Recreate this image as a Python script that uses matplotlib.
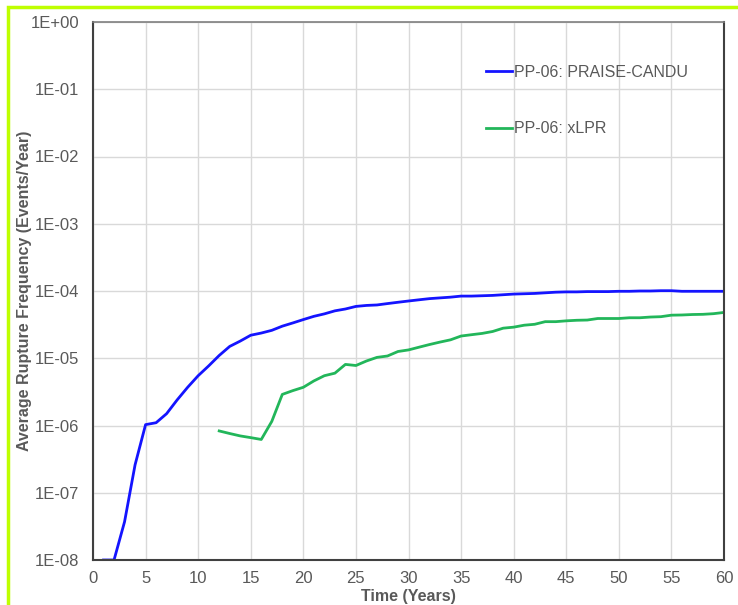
import numpy as np
import matplotlib.pyplot as plt
from matplotlib.lines import Line2D
from matplotlib.patches import Rectangle

plt.rcParams['font.family'] = ['Liberation Sans', 'DejaVu Sans']

# PRAISE-CANDU results, years 1..60
praise_t = list(range(1, 61))
praise_f = [1.0e-8, 1.0e-8, 3.7e-8, 2.6e-7, 1.03e-6, 1.1e-6, 1.5e-6, 2.4e-6, 3.7e-6, 5.5e-6,
            7.7e-6, 1.1e-5, 1.5e-5, 1.8e-5, 2.2e-5, 2.37e-5, 2.6e-5, 3.0e-5, 3.35e-5, 3.76e-5,
            4.2e-5, 4.57e-5, 5.07e-5, 5.4e-5, 5.9e-5, 6.1e-5, 6.2e-5, 6.5e-5, 6.8e-5, 7.1e-5,
            7.4e-5, 7.7e-5, 7.9e-5, 8.1e-5, 8.4e-5, 8.4e-5, 8.5e-5, 8.6e-5, 8.8e-5, 9.0e-5,
            9.1e-5, 9.2e-5, 9.4e-5, 9.6e-5, 9.7e-5, 9.7e-5, 9.8e-5, 9.8e-5, 9.8e-5, 9.9e-5,
            9.9e-5, 1.0e-4, 1.0e-4, 1.01e-4, 1.01e-4, 9.9e-5, 9.9e-5, 9.9e-5, 9.9e-5, 9.9e-5]

# xLPR results, years 12..60
xlpr_t = list(range(12, 61))
xlpr_f = [8.3e-7, 7.6e-7, 7.0e-7, 6.6e-7, 6.2e-7, 1.15e-6, 2.9e-6, 3.3e-6, 3.7e-6, 4.6e-6,
          5.5e-6, 6.0e-6, 8.1e-6, 7.8e-6, 9.1e-6, 1.03e-5, 1.08e-5, 1.26e-5, 1.33e-5, 1.46e-5,
          1.6e-5, 1.74e-5, 1.88e-5, 2.14e-5, 2.24e-5, 2.34e-5, 2.5e-5, 2.8e-5, 2.9e-5, 3.1e-5,
          3.2e-5, 3.5e-5, 3.5e-5, 3.6e-5, 3.67e-5, 3.7e-5, 3.9e-5, 3.9e-5, 3.9e-5, 4.0e-5,
          4.0e-5, 4.1e-5, 4.15e-5, 4.37e-5, 4.4e-5, 4.47e-5, 4.5e-5, 4.6e-5, 4.8e-5]

labels = ['PP-06: PRAISE-CANDU', 'PP-06: xLPR']
colors = ['#1414ff', '#22b65a']

fig = plt.figure(figsize=(7.38, 6.05), dpi=100)
ax = fig.add_axes([93 / 738, 1 - 560 / 605, (724 - 93) / 738, (560 - 22) / 605])

ax.plot(praise_t, praise_f, color=colors[0], lw=2)
ax.plot(xlpr_t, xlpr_f, color=colors[1], lw=2)

ax.set_yscale('log')
ax.set_xlim(0, 60)
ax.set_ylim(1e-8, 1)
ax.set_xticks(np.arange(0, 61, 5))
ax.set_yticks([10.0 ** k for k in range(-8, 1)])
ax.set_yticklabels(['1E%+03d' % k for k in range(-8, 1)])
ax.minorticks_off()
ax.grid(True, color='#d9d9d9', lw=1)
ax.set_axisbelow(True)
ax.tick_params(length=0, labelsize=12, colors='#595959')
ax.tick_params(axis='y', pad=10)
ax.tick_params(axis='x', pad=8)
for s in ['left', 'bottom', 'right']:
    ax.spines[s].set_color('#404040')
    ax.spines[s].set_linewidth(1.5)
ax.spines['top'].set_color('#7f7f7f')
ax.spines['top'].set_linewidth(1.2)

ax.set_xlabel('Time (Years)', fontsize=11.5, fontweight='bold', color='#595959', labelpad=2)
ax.set_ylabel('Average Rupture Frequency (Events/Year)', fontsize=11.5, fontweight='bold',
              color='#595959')
ax.yaxis.set_label_coords(-0.097, 0.5)

handles = [Line2D([], [], color=c, lw=2) for c in colors]
leg = ax.legend(handles, labels, loc='upper left', bbox_to_anchor=(0.6, 0.947), frameon=False,
                fontsize=11.5, handlelength=1.6, handletextpad=0.15, labelspacing=2.6)
for t in leg.get_texts():
    t.set_color('#595959')

# outer lime frame
fig.patches.append(Rectangle((8 / 738, -0.1), 1.2, 1 - 7 / 605 + 0.1, transform=fig.transFigure,
                             fill=False, edgecolor='#bfff00', lw=2.5))

fig.savefig('out.png', dpi=100)
